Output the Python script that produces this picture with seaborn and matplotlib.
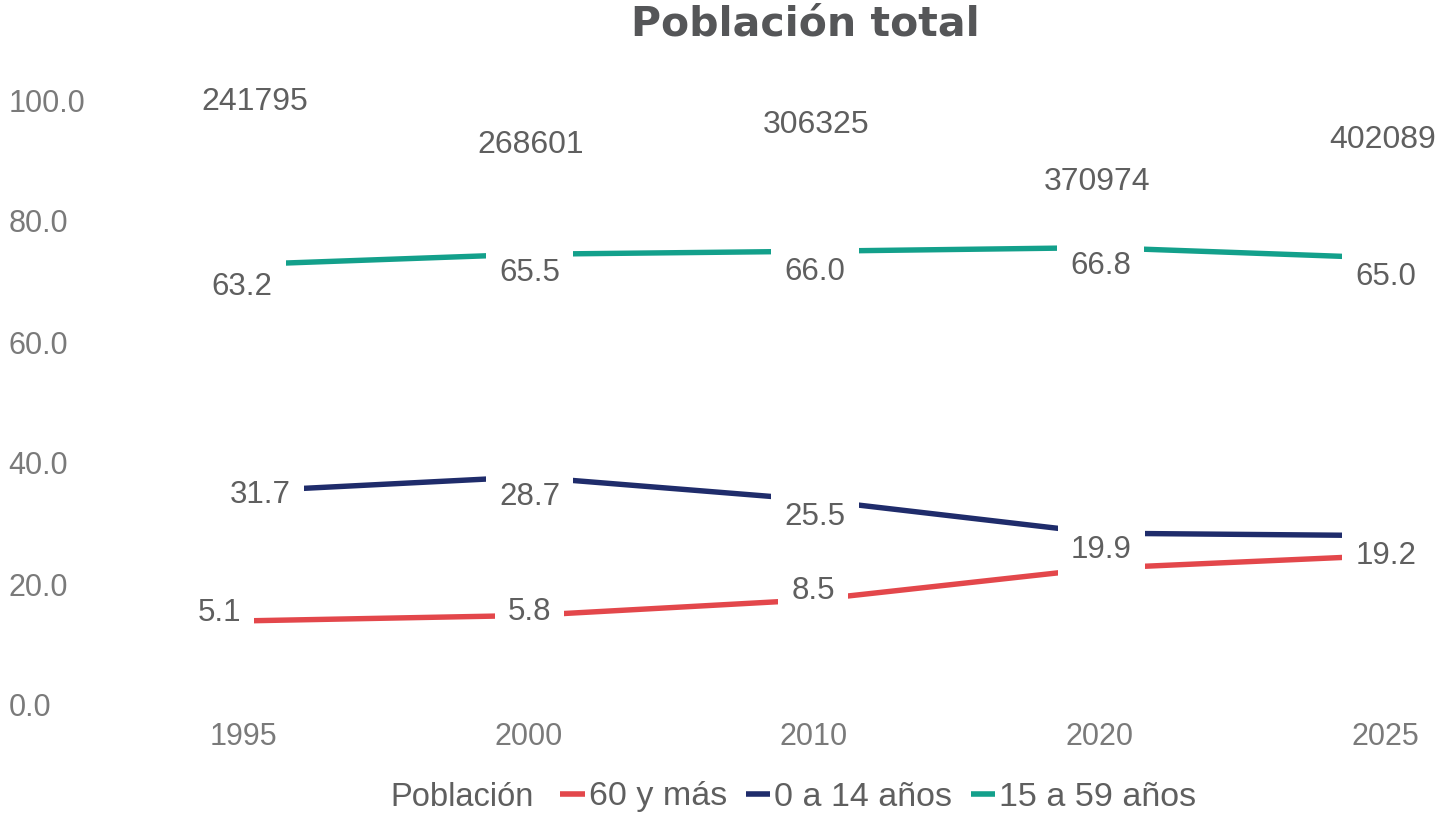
import numpy as np
import pandas as pd
import matplotlib
matplotlib.use('Agg')
import matplotlib.pyplot as plt
from matplotlib.lines import Line2D
import seaborn as sns

# datos
anios = ['1995', '2000', '2010', '2020', '2025']
grupos = ['60 y más', '0 a 14 años', '15 a 59 años']
linea_60 = [13.9, 14.8, 17.4, 22.6, 24.7]
linea_0_14 = [35.3, 37.7, 33.9, 28.4, 28.0]
linea_15_59 = [72.8, 74.5, 75.0, 75.6, 73.9]
etiq_60 = [5.1, 5.8, 8.5, None, None]
etiq_0_14 = [31.7, 28.7, 25.5, 19.9, 19.2]
etiq_15_59 = [63.2, 65.5, 66.0, 66.8, 65.0]
poblacion_total = [241795, 268601, 306325, 370974, 402089]
yticks = [0, 20, 40, 60, 80, 100]

# colocación de etiquetas (píxeles relativos al punto; y hacia abajo)
desp_60 = [(-24, -8), (1, -3), (-1, -9), None, None]
desp_0_14 = [(17, 4), (1, 20), (1, 17), (2, 17), (1, 20)]
desp_15_59 = [(-1, 22), (1, 19), (1, 21), (1, 18), (1, 19)]
altura_total = [99.7, 92.6, 95.9, 86.4, 93.4]
desp_total = [12, 2, 2, -2, -2]

colores = {'60 y más': '#E3474B', '0 a 14 años': '#1F2C6B', '15 a 59 años': '#13A08B'}
gris_txt = '#5F5F5F'
gris_eje = '#7A7A7A'

sns.set_theme(style='white')
plt.rcParams['font.family'] = ['Liberation Sans', 'DejaVu Sans']

df = pd.DataFrame({
    'Año': anios * 3,
    'grupo': np.repeat(grupos, len(anios)),
    'valor': linea_60 + linea_0_14 + linea_15_59,
})

fig = plt.figure(figsize=(14.37, 8.15), dpi=100)
ax = fig.add_axes([100 / 1437, 110 / 815, 1337 / 1437, 605 / 815])

sns.lineplot(data=df, x='Año', y='valor', hue='grupo', hue_order=grupos,
             palette=colores, linewidth=3.9, legend=False, sort=False, ax=ax)
for ln in ax.lines:
    ln.set_solid_capstyle('butt')

ax.set_xlim(-0.501, 4.182)
ax.set_ylim(0, 100)
ax.set_yticks(yticks)
ax.set_yticklabels([f'{v:.1f}' for v in yticks])
ax.tick_params(axis='y', length=0, pad=66, labelsize=22, labelcolor=gris_eje)
for t in ax.get_yticklabels():
    t.set_horizontalalignment('left')
ax.tick_params(axis='x', length=0, pad=12, labelsize=22, labelcolor=gris_eje)
ax.set_xlabel('')
ax.set_ylabel('')
sns.despine(ax=ax, left=True, bottom=True)

caja = dict(boxstyle='square,pad=0.42', fc='white', ec='none')


def etiquetar(valores, etiquetas, desplaz):
    for i, (v, e, d) in enumerate(zip(valores, etiquetas, desplaz)):
        if e is None:
            continue
        ax.annotate(f'{e:.1f}', xy=(i, v), xytext=(d[0], -d[1]),
                    textcoords='offset pixels', ha='center', va='center',
                    fontsize=22.5, color=gris_txt, bbox=caja, zorder=5)


etiquetar(linea_15_59, etiq_15_59, desp_15_59)
etiquetar(linea_0_14, etiq_0_14, desp_0_14)
etiquetar(linea_60, etiq_60, desp_60)

for i, (p, h, dx) in enumerate(zip(poblacion_total, altura_total, desp_total)):
    ax.annotate(str(p), xy=(i, h), xytext=(dx, 0), textcoords='offset pixels',
                ha='center', va='center', fontsize=23, color=gris_txt,
                annotation_clip=False, zorder=5)

fig.text(805 / 1437, 1 - 25 / 815, 'Población total', ha='center', va='center',
         fontsize=29.5, fontweight='bold', color='#555658',
         family=['DejaVu Sans'])

# leyenda
fig.text(390 / 1437, 1 - 797 / 815, 'Población', ha='left', va='center',
         fontsize=23.5, color=gris_txt)
manejadores = [Line2D([], [], color=colores[g], lw=4, solid_capstyle='butt') for g in grupos]
fig.legend(manejadores, grupos, loc='center left',
           bbox_to_anchor=(560 / 1437, 1 - 797 / 815), ncol=3, frameon=False,
           fontsize=24.5, labelcolor=gris_txt, handlelength=0.72, handletextpad=0.12,
           columnspacing=0.55, borderpad=0, borderaxespad=0)

fig.savefig('out.png', dpi=100)
plt.close()
